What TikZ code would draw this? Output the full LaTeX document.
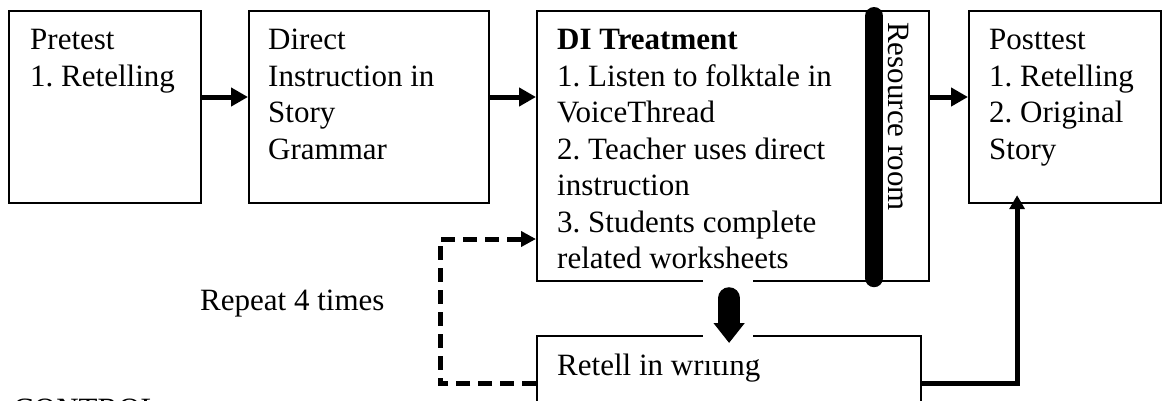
\documentclass[tikz,border=0pt]{standalone}
\usepackage{fontspec}
\setmainfont{Liberation Serif}
\usetikzlibrary{arrows.meta}
\frenchspacing

\begin{document}
\begin{tikzpicture}[x=1pt,y=-1pt,
  box/.style={draw, line width=2.2pt, inner sep=0pt, anchor=north west},
  txt/.style={inner sep=0pt, anchor=north west, align=left, font=\fontsize{31}{36.5}\selectfont},
  flow/.style={line width=5pt, -{Triangle[length=17pt,width=18pt]}},
  loopback/.style={line width=5pt, dash pattern=on 14pt off 8pt, -{Triangle[length=15pt,width=15pt]}},
  divider/.style={line width=18pt, line cap=round},
  drop/.style={line width=22pt, line cap=round, -{Triangle[length=20pt,width=30pt]}}]
\path[use as bounding box, clip] (0,0) rectangle (1165,400);

% boxes
\node[box, minimum width=192pt, minimum height=192pt] (pretest) at (8,10) {};
\node[box, minimum width=240pt, minimum height=192pt] (direct) at (248,10) {};
\node[box, minimum width=336pt, minimum height=270pt] (treat) at (536,10) {};
\node[box, minimum width=56pt, minimum height=270pt] (room) at (872,10) {};
\node[box, minimum width=192pt, minimum height=192pt] (posttest) at (968,10) {};
\node[box, minimum width=384pt, minimum height=95pt] (retell) at (536,335) {};

% texts
\node[txt] (pretest-txt) at ([shift={(22pt,-19pt)}]pretest.north west) {Pretest\\1. Retelling};
\node[txt] (direct-txt) at ([shift={(20pt,-19pt)}]direct.north west) {Direct\\Instruction in\\Story\\Grammar};
\node[txt] (treat-txt) at ([shift={(21pt,-19pt)}]treat.north west)
  {\textbf{DI Treatment}\\1. Listen to folktale in\\VoiceThread\\2. Teacher uses direct\\instruction\\3. Students complete\\related worksheets};
\node[txt, rotate=-90, anchor=base west] (room-txt) at ([shift={(16pt,-12pt)}]room.north west) {Resource room};
\node[txt] (posttest-txt) at ([shift={(21pt,-19pt)}]posttest.north west) {Posttest\\1. Retelling\\2. Original\\Story};
\node[txt] (retell-txt) at ([shift={(21pt,-19pt)}]retell.north west) {Retell in writing};
\node[txt, anchor=base west] (repeat) at (200,310) {Repeat 4 times};
\node[txt, anchor=base west] (control) at (13,419) {CONTROL};

% divider inside the treatment box
\draw[divider, shorten <=6pt, shorten >=4pt] (treat.north east) -- (treat.south east);

% arrows along the top row
\coordinate (row) at (0,97);
\draw[flow] (pretest.east |- row) -- (direct.west |- row);
\draw[flow] (direct.east |- row) -- (treat.west |- row);
\draw[flow] (room.east |- row) -- (posttest.west |- row);

% repeat loop and way out to the posttest
\draw[loopback] (retell.west) -- ++(-96,0) |- (treat.west |- 0,239);
\draw[flow, -{Triangle[length=14pt,width=15pt]}, shorten >=-9pt] (retell.east) -| ([xshift=-48pt]posttest.south);

% heavy arrow down into the writing box
\fill[white] (703,277) rectangle (753,361);
\draw[drop, shorten <=16pt, shorten >=-8pt] (retell.north |- treat.south) -- (retell.north);
\end{tikzpicture}
\end{document}
